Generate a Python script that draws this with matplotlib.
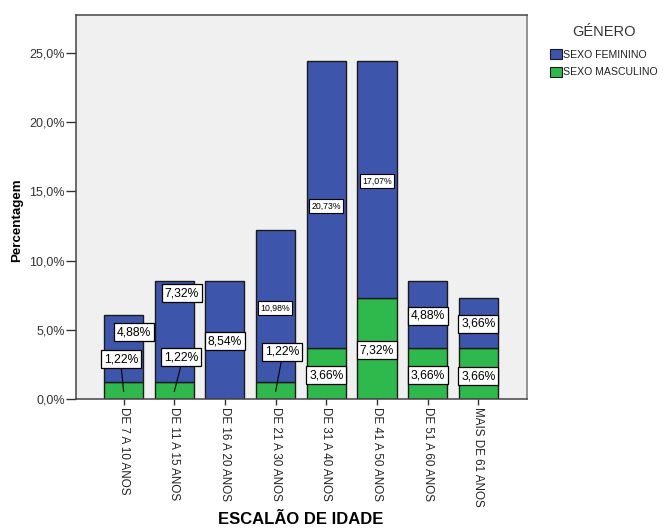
import matplotlib
matplotlib.use("Agg")
import matplotlib.pyplot as plt
from matplotlib.patches import Patch
import numpy as np

plt.rcParams['font.family'] = ['Liberation Sans', 'DejaVu Sans']

# Age groups and percentage of respondents by gender
categories = ["DE 7 A 10 ANOS", "DE 11 A 15 ANOS", "DE 16 A 20 ANOS", "DE 21 A 30 ANOS",
              "DE 31 A 40 ANOS", "DE 41 A 50 ANOS", "DE 51 A 60 ANOS", "MAIS DE 61 ANOS"]
masculino = [1.22, 1.22, 0.00, 1.22, 3.66, 7.32, 3.66, 3.66]
feminino = [4.88, 7.32, 8.54, 10.98, 20.73, 17.07, 4.88, 3.66]
yticks = [0, 5, 10, 15, 20, 25]

# label placement (category offset, y in data units)
fem_lab_dx = [0.20, 0.15, 0.0, -0.02, 0.0, 0.0, 0.0, 0.0]
fem_lab_y = [4.84, 7.66, 4.19, 6.58, 13.95, 15.75, 6.00, 5.42]
fem_lab_small = [False, False, False, True, True, True, False, False]
mas_lab_dx = [-0.05, 0.14, 0.0, 0.12, 0.0, 0.0, 0.0, 0.0]
mas_lab_y = [2.89, 3.03, 0.0, 3.40, 1.73, 3.54, 1.73, 1.66]
mas_lab_leader = [True, True, False, True, False, False, False, False]

BLUE = "#3d56ab"
GREEN = "#2fb84c"

W, H = 671, 529
fig = plt.figure(figsize=(W / 100, H / 100), dpi=100)
ax = fig.add_axes([76 / W, 1 - 399 / H, (527 - 76) / W, (399 - 15) / H])
ax.set_facecolor("#f0f0f0")

x = np.arange(len(categories))
bw = 0.77
ax.bar(x, masculino, width=bw, color=GREEN, edgecolor="#1a1a1a", linewidth=1.0, zorder=2)
ax.bar(x, feminino, width=bw, bottom=masculino, color=BLUE, edgecolor="#1a1a1a",
       linewidth=1.0, zorder=2)


def fmt(v):
    return f"{v:.2f}".replace(".", ",") + "%"


box = dict(boxstyle="square,pad=0.24", facecolor="white", edgecolor="black", linewidth=0.9)
box_s = dict(boxstyle="square,pad=0.24", facecolor="white", edgecolor="black", linewidth=0.8)

for i in range(len(categories)):
    # feminine segment label
    ax.text(x[i] + fem_lab_dx[i], fem_lab_y[i], fmt(feminino[i]),
            ha="center", va="center", fontsize=6.3 if fem_lab_small[i] else 8.7,
            color="black", bbox=box_s if fem_lab_small[i] else box, zorder=5)
    # masculine segment label
    if masculino[i] > 0:
        lx = x[i] + mas_lab_dx[i]
        ly = mas_lab_y[i]
        if mas_lab_leader[i]:
            ax.plot([lx, x[i]], [ly - 0.5, masculino[i] * 0.45], color="black",
                    linewidth=0.8, zorder=4)
        ax.text(lx, ly, fmt(masculino[i]), ha="center", va="center", fontsize=8.7,
                color="black", bbox=box, zorder=5)

ax.set_xlim(-0.94, 7.96)
ax.set_ylim(0, 27.75)
ax.set_yticks(yticks)
ax.set_yticklabels([f"{t:.1f}".replace(".", ",") + "%" for t in yticks])
ax.set_xticks(x)
ax.set_xticklabels(categories, rotation=270, ha="center", va="top")

ax.tick_params(axis="y", length=7, width=1, color="#333333", labelsize=9,
               labelcolor="#333333", pad=1)
ax.tick_params(axis="x", length=4, width=1, color="#333333", labelsize=8.4,
               labelcolor="#222222", pad=2)

for s in ax.spines.values():
    s.set_color("#444444")
    s.set_linewidth(1.1)
ax.spines["right"].set_color("#777777")

ax.set_ylabel("Percentagem", fontsize=9.6, fontweight="bold", color="black")
ax.yaxis.set_label_coords(-0.118, 0.466)
ax.set_xlabel("ESCALÃO DE IDADE", fontsize=12, fontweight="bold", color="black")
ax.xaxis.set_label_coords(0.499, -0.295)

handles = [Patch(facecolor=BLUE, edgecolor="#1a1a1a", linewidth=0.8),
           Patch(facecolor=GREEN, edgecolor="#1a1a1a", linewidth=0.8)]
leg = fig.legend(handles, ["SEXO FEMININO", "SEXO MASCULINO"], title="GÉNERO",
                 loc="upper left", bbox_to_anchor=(543 / W, 1 - 18 / H),
                 frameon=False, fontsize=7.6, title_fontsize=10.5,
                 handlelength=1.1, handleheight=1.1, handletextpad=0.1,
                 labelspacing=0.65, borderpad=0.2)
leg.get_title().set_color("#333333")
leg._legend_box.sep = 7
for t in leg.get_texts():
    t.set_color("#222222")

fig.savefig("out.png", dpi=100)
